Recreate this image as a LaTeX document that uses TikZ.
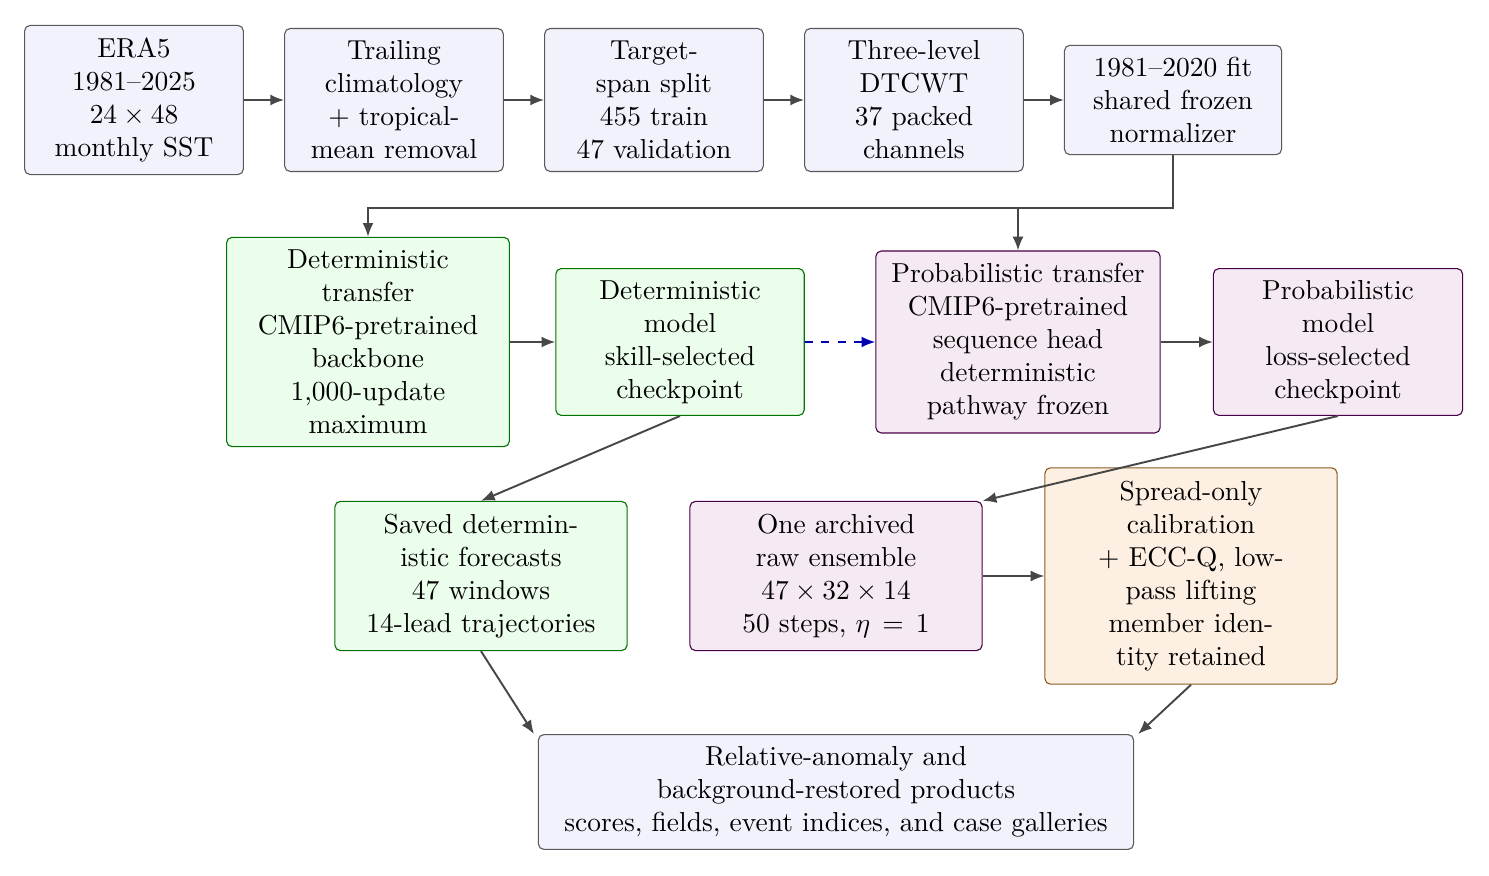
\documentclass[tikz,border=0pt]{standalone}
\usepackage{amsmath}
\usetikzlibrary{arrows.meta}

\definecolor{infill}{HTML}{F2F2FD}
\definecolor{detfill}{HTML}{EBFDEB}
\definecolor{probfill}{HTML}{F5EAF4}
\definecolor{calfill}{HTML}{FDF0E3}
\definecolor{probdraw}{HTML}{4A0048}
\definecolor{caldraw}{HTML}{8A5A20}

\begin{document}
\begin{tikzpicture}[x=0.0128cm,y=-0.0128cm]

\tikzset{box/.style = {draw=black!65, fill=infill, rounded corners=2pt, align=center, inner sep=2pt}}
\tikzset{det/.style = {box, draw=green!45!black, fill=detfill}}
\tikzset{prob/.style = {box, draw=probdraw, fill=probfill}}
\tikzset{cal/.style = {box, draw=caldraw, fill=calfill}}
\tikzset{arc/.style = {-{Latex[length=5pt,width=4pt]}, draw=black!72, line width=0.7pt}}

\useasboundingbox (0,0) rectangle (1489,876);

% first row
\node[box, minimum width=2.8cm, minimum height=1.91cm] (era) at (134,100) {ERA5\\1981--2025\\$24\times48$\\monthly SST};
\node[box, minimum width=2.8cm, minimum height=1.83cm] (clim) at (394,100) {Trailing\\climatology\\+ tropical-\\mean removal};
\node[box, minimum width=2.8cm, minimum height=1.83cm] (split) at (654,100) {Target-\\span split\\455 train\\47 validation};
\node[box, minimum width=2.8cm, minimum height=1.83cm] (dtcwt) at (914,100) {Three-level\\DTCWT\\37 packed\\channels};
\node[box, minimum width=2.78cm, minimum height=1.4cm] (norm) at (1173,100) {1981--2020 fit\\shared frozen\\normalizer};

% second row
\node[det, minimum width=3.62cm, minimum height=2.68cm] (dett) at (368,342) {Deterministic\\transfer\\CMIP6-pretrained\\backbone\\1,000-update\\maximum};
\node[det, minimum width=3.18cm, minimum height=1.88cm] (detm) at (680,342) {Deterministic\\model\\skill-selected\\checkpoint};
\node[prob, minimum width=3.64cm, minimum height=2.33cm] (probt) at (1018,342) {Probabilistic transfer\\CMIP6-pretrained\\sequence head\\deterministic\\pathway frozen};
\node[prob, minimum width=3.19cm, minimum height=1.88cm] (probm) at (1338,342) {Probabilistic\\model\\loss-selected\\checkpoint};

% third row
\node[det, minimum width=3.74cm, minimum height=1.91cm] (saved) at (481,576) {Saved determin-\\istic forecasts\\47 windows\\14-lead trajectories};
\node[prob, minimum width=3.74cm, minimum height=1.91cm] (ens) at (836,576) {One archived\\raw ensemble\\$47\times32\times14$\\50 steps, $\eta\,=\,1$};
\node[cal, minimum width=3.74cm, minimum height=2.77cm] (calib) at (1191,576) {Spread-only\\calibration\\+ ECC-Q, low-\\pass lifting\\member iden-\\tity retained};

% products
\node[box, minimum width=7.62cm, minimum height=1.47cm] (prod) at (836,792) {Relative-anomaly and\\background-restored products\\scores, fields, event indices, and case galleries};

\coordinate (fork) at (1173,208);

% arcs
\draw[arc] (era) -- (clim);
\draw[arc] (clim) -- (split);
\draw[arc] (split) -- (dtcwt);
\draw[arc] (dtcwt) -- (norm);
\draw[arc] (norm.south) -- (fork) -| (dett.north);
\draw[arc] (fork) -| (probt.north);
\draw[arc] (dett) -- (detm);
\draw[arc, dashed, draw=blue!70!black] (detm) -- (probt);
\draw[arc] (probt) -- (probm);
\draw[arc] (detm.south) -- (saved.north);
\draw[arc] (probm.south) -- (ens.north east);
\draw[arc] (ens) -- (calib);
\draw[arc] (saved.south) -- ([xshift=-0.05cm]prod.north west);
\draw[arc] (calib.south) -- ([xshift=0.05cm]prod.north east);

\end{tikzpicture}
\end{document}
